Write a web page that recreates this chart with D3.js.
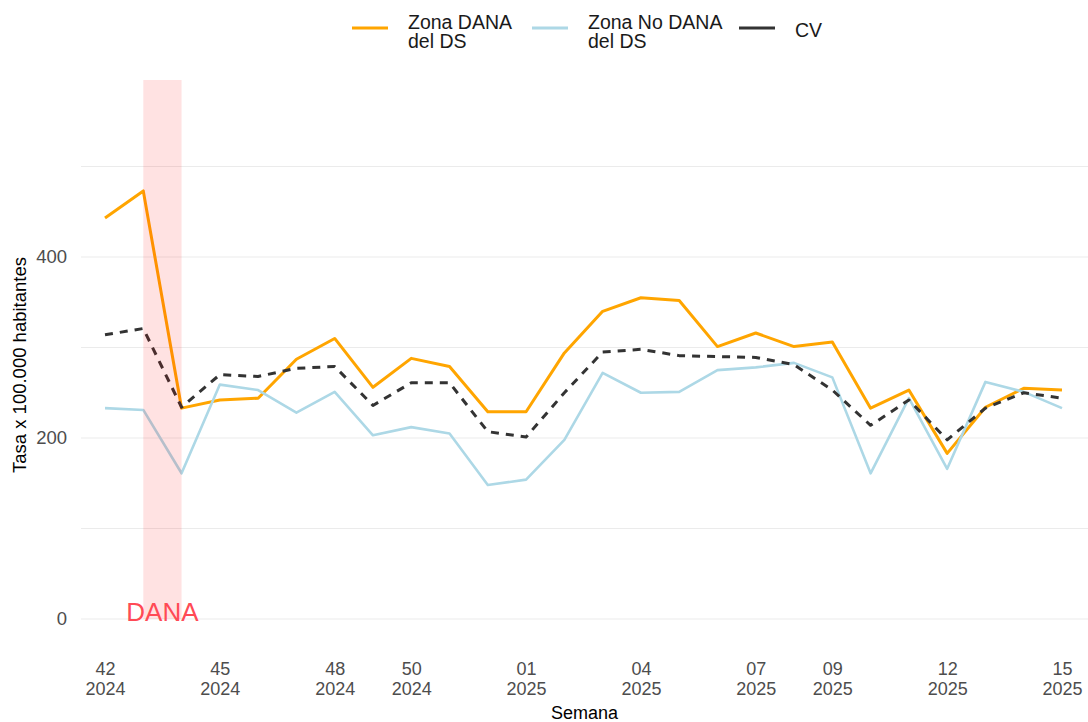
<!DOCTYPE html>
<html>
<head>
  <meta charset="utf-8">
  <script src="https://d3js.org/d3.v7.min.js"></script>
  <style>
    body { margin: 0; background: #fff; font-family: 'Liberation Sans', Arial, sans-serif; }
  </style>
</head>
<body>
  <svg id="chart"></svg>
  <script>
    // Weeks 42/2024 .. 15/2025
    const weeks = ["42","43","44","45","46","47","48","49","50","51","52",
                   "01","02","03","04","05","06","07","08","09","10","11","12","13","14","15"];
    const years = ["2024","2024","2024","2024","2024","2024","2024","2024","2024","2024","2024",
                   "2025","2025","2025","2025","2025","2025","2025","2025","2025","2025","2025","2025","2025","2025","2025"];
    const tickWeeks = ["42-2024","45-2024","48-2024","50-2024","01-2025","04-2025","07-2025","09-2025","12-2025","15-2025"];

    const zonaDana   = [443, 473, 233, 242, 244, 287, 310, 256, 288, 279, 229, 229, 294, 340, 355, 352, 301, 316, 301, 306, 233, 253, 183, 234, 255, 253];
    const zonaNoDana = [233, 231, 161, 259, 253, 228, 251, 203, 212, 205, 148, 154, 198, 272, 250, 251, 275, 278, 283, 267, 161, 244, 166, 262, 251, 233];
    const cv         = [314, 321, 234, 270, 268, 277, 279, 236, 261, 261, 207, 201, 250, 295, 298, 291, 290, 289, 281, 253, 214, 242, 198, 233, 250, 244];

    const seriesNames = ["Zona DANA\ndel DS", "Zona No DANA\ndel DS", "CV"];
    const seriesColors = ["#ffa500", "#add8e6", "#333333"];
    const danaWeeks = ["43-2024", "44-2024"];

    const width = 1088, height = 722;
    const panel = {left: 81, right: 1088, top: 80, bottom: 650};

    const keys = weeks.map((w, i) => w + "-" + years[i]);

    const x = d3.scalePoint()
      .domain(keys)
      .range([105, 1062]);

    const y = d3.scaleLinear()
      .domain([0, 500])
      .range([619, 166.5]);

    const svg = d3.select("#chart")
      .attr("width", width)
      .attr("height", height);

    // grid
    svg.append("g")
      .selectAll("line")
      .data([0, 100, 200, 300, 400, 500])
      .join("line")
        .attr("x1", panel.left)
        .attr("x2", panel.right)
        .attr("y1", d => y(d))
        .attr("y2", d => y(d))
        .attr("stroke", "#ebebeb")
        .attr("stroke-width", 1.2);

    // lines
    const line = d3.line()
      .x((d, i) => x(keys[i]))
      .y(d => y(d));

    const allSeries = [zonaDana, zonaNoDana, cv];
    allSeries.forEach((s, k) => {
      svg.append("path")
        .datum(s)
        .attr("fill", "none")
        .attr("stroke", seriesColors[k])
        .attr("stroke-width", k === 1 ? 2.6 : 3)
        .attr("stroke-dasharray", k === 2 ? "8,7" : null)
        .attr("stroke-linejoin", "round")
        .attr("d", line);
    });

    // DANA shading and label
    svg.append("rect")
      .attr("x", x(danaWeeks[0]))
      .attr("width", x(danaWeeks[1]) - x(danaWeeks[0]))
      .attr("y", panel.top)
      .attr("height", y(0) - panel.top)
      .attr("fill", "#ff0000")
      .attr("fill-opacity", 0.115);

    svg.append("text")
      .attr("x", (x(danaWeeks[0]) + x(danaWeeks[1])) / 2)
      .attr("y", y(0) + 2)
      .attr("text-anchor", "middle")
      .attr("font-size", 26)
      .attr("fill", "#ff4a55")
      .text("DANA");

    // y axis labels
    const yAxis = svg.append("g")
      .attr("transform", `translate(${panel.left},0)`)
      .call(d3.axisLeft(y).tickValues([0, 200, 400]).tickSize(0).tickPadding(14));
    yAxis.select(".domain").remove();
    yAxis.selectAll("text")
      .attr("font-family", "'Liberation Sans', Arial, sans-serif")
      .attr("font-size", 18.5)
      .attr("fill", "#4d4d4d");

    // x axis labels (two lines)
    const xAxis = svg.append("g")
      .attr("transform", `translate(0,${panel.bottom})`)
      .call(d3.axisBottom(x).tickValues(tickWeeks).tickSize(0).tickFormat(""));
    xAxis.select(".domain").remove();
    xAxis.selectAll(".tick").append("text")
      .attr("fill", "#4d4d4d")
      .attr("font-size", 18)
      .attr("font-family", "'Liberation Sans', Arial, sans-serif")
      .attr("text-anchor", "middle")
      .selectAll("tspan")
      .data(d => d.split("-"))
      .join("tspan")
        .attr("x", 0)
        .attr("y", (d, i) => 25 + i * 20)
        .text(d => d);

    // axis titles
    svg.append("text")
      .attr("x", (panel.left + panel.right) / 2)
      .attr("y", 719)
      .attr("text-anchor", "middle")
      .attr("font-size", 18)
      .text("Semana");

    svg.append("text")
      .attr("transform", `translate(26,${(panel.top + panel.bottom) / 2}) rotate(-90)`)
      .attr("text-anchor", "middle")
      .attr("font-size", 18.5)
      .text("Tasa x 100.000 habitantes");

    // legend
    const legendX = [352, 532, 739];
    const legend = svg.append("g");
    seriesNames.forEach((name, k) => {
      const g = legend.append("g").attr("transform", `translate(${legendX[k]},28)`);
      g.append("line")
        .attr("x1", 0).attr("x2", 36)
        .attr("stroke", seriesColors[k])
        .attr("stroke-width", 3.2);
      const lines = name.split("\n");
      const t = g.append("text")
        .attr("font-size", 19.5)
        .attr("fill", "#1a1a1a");
      lines.forEach((l, j) => {
        t.append("tspan")
          .attr("x", 56)
          .attr("y", lines.length === 1 ? 9 : 0.5 + j * 19.5)
          .text(l);
      });
    });
  </script>
</body>
</html>
